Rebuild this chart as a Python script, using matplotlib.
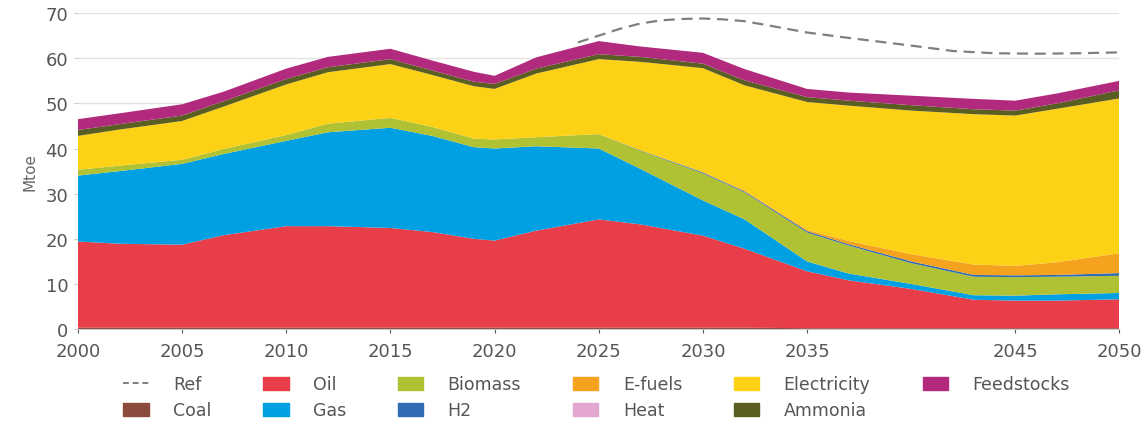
import matplotlib
matplotlib.use("Agg")
import matplotlib.pyplot as plt
from matplotlib.lines import Line2D
from matplotlib.patches import Patch

years = [2000, 2002, 2005, 2007, 2010, 2012, 2015, 2017, 2019, 2020, 2022,
         2025, 2027, 2030, 2032, 2035, 2037, 2040, 2043, 2045, 2047, 2050]

coal        = [0.3, 0.3, 0.3, 0.3, 0.3, 0.3, 0.3, 0.3, 0.3, 0.3, 0.3,
               0.3, 0.3, 0.3, 0.3, 0.2, 0.2, 0.2, 0.2, 0.2, 0.2, 0.2]
oil         = [19.1, 18.6, 18.4, 20.5, 22.5, 22.5, 22.1, 21.2, 19.7, 19.3, 21.5,
               24.0, 22.9, 20.4, 17.5, 12.6, 10.6, 8.7, 6.3, 6.1, 6.1, 6.4]
gas         = [14.6, 16.1, 17.9, 18.0, 18.9, 20.8, 22.2, 21.3, 20.3, 20.4, 18.7,
               15.7, 12.3, 7.8, 6.5, 2.2, 1.5, 1.1, 1.0, 1.1, 1.4, 1.4]
biomass     = [1.3, 1.2, 0.9, 1.1, 1.3, 1.9, 2.2, 2.0, 1.9, 2.0, 2.0,
               3.2, 4.0, 6.0, 6.0, 6.4, 6.2, 4.6, 4.1, 4.1, 3.9, 3.8]
h2          = [0, 0, 0, 0, 0, 0, 0, 0, 0, 0, 0,
               0, 0.1, 0.2, 0.2, 0.3, 0.3, 0.4, 0.4, 0.4, 0.4, 0.6]
efuels      = [0, 0, 0, 0, 0, 0, 0, 0, 0, 0, 0,
               0, 0, 0.1, 0.2, 0.3, 0.7, 1.6, 2.3, 2.1, 2.8, 4.4]
heat        = [0, 0, 0, 0, 0, 0, 0, 0, 0, 0, 0,
               0, 0, 0, 0, 0, 0, 0, 0, 0, 0, 0]
electricity = [7.5, 8.0, 8.6, 9.4, 11.2, 11.4, 11.9, 11.5, 11.6, 11.2, 14.1,
               16.6, 19.6, 23.0, 23.3, 28.3, 30.0, 31.8, 33.3, 33.3, 34.0, 34.3]
ammonia     = [1.3, 1.2, 1.2, 1.2, 1.2, 1.1, 1.1, 1.0, 1.0, 1.1, 1.1,
               1.1, 1.1, 1.0, 1.1, 1.1, 1.1, 1.2, 1.1, 1.1, 1.2, 1.8]
feedstocks  = [2.4, 2.4, 2.5, 2.1, 2.3, 2.3, 2.3, 2.2, 2.2, 1.8, 2.5,
               2.9, 2.3, 2.4, 2.5, 1.8, 1.8, 2.1, 2.3, 2.2, 2.2, 2.1]

ref_years = [2024, 2025, 2026, 2027, 2028, 2029, 2030, 2031, 2032, 2033, 2035,
             2037, 2040, 2042, 2044, 2046, 2048, 2050]
ref_vals  = [63.5, 65.0, 66.5, 67.7, 68.4, 68.7, 68.8, 68.6, 68.2, 67.4, 65.7,
             64.5, 62.8, 61.6, 61.1, 61.0, 61.1, 61.3]

layer_colors = ["#8c4a3c", "#e83e4a", "#00a0e3", "#b0c233", "#2f6cb4",
                "#f5a31e", "#e4a8d0", "#fdd116", "#5b5e22", "#b12a7e"]

xticks = [2000, 2005, 2010, 2015, 2020, 2025, 2030, 2035, 2045, 2050]
yticks = [0, 10, 20, 30, 40, 50, 60, 70]

fig = plt.figure(figsize=(11.47, 4.27), dpi=100)
ax = fig.add_axes([0.068, 0.227, 0.908, 0.740])

layers = [coal, oil, gas, biomass, h2, efuels, heat, electricity, ammonia, feedstocks]
ax.stackplot(years, layers, colors=layer_colors, linewidth=0, zorder=2)
ax.plot(ref_years, ref_vals, color="#7f7f7f", linestyle=(0, (5, 3)), linewidth=1.6, zorder=3)

ax.set_xlim(2000, 2050)
ax.set_ylim(0, 70)
ax.set_xticks(xticks)
ax.set_yticks(yticks)
ax.grid(axis="y", color="#e3e3e3", linewidth=1, zorder=0)
ax.set_axisbelow(True)
for s in ["top", "right", "left"]:
    ax.spines[s].set_visible(False)
ax.spines["bottom"].set_color("#cccccc")
ax.tick_params(axis="both", colors="#555555", labelsize=13, length=3, width=0.8)
ax.tick_params(axis="x", pad=6)
ax.tick_params(axis="y", color="#cccccc", labelcolor="#555555", pad=4)
ax.set_ylabel("Mtoe", color="#666666", fontsize=11, labelpad=6)

handles = [
    Line2D([0], [0], color="#7f7f7f", linestyle=(0, (3, 2)), linewidth=1.4),
    Patch(color=layer_colors[0]), Patch(color=layer_colors[1]),
    Patch(color=layer_colors[2]), Patch(color=layer_colors[3]),
    Patch(color=layer_colors[4]), Patch(color=layer_colors[5]),
    Patch(color=layer_colors[6]), Patch(color=layer_colors[7]),
    Patch(color=layer_colors[8]), Patch(color=layer_colors[9]),
]
labels = ["Ref", "Coal", "Oil", "Gas", "Biomass", "H2", "E-fuels", "Heat",
          "Electricity", "Ammonia", "Feedstocks"]
leg = fig.legend(handles, labels, loc="upper center", bbox_to_anchor=(0.52, 0.155),
                 ncol=6, frameon=False, fontsize=12.5, handlelength=1.45, handleheight=0.75,
                 columnspacing=3.0, handletextpad=1.4, labelspacing=0.45)
for t in leg.get_texts():
    t.set_color("#555555")

fig.savefig("out.png", dpi=100)
